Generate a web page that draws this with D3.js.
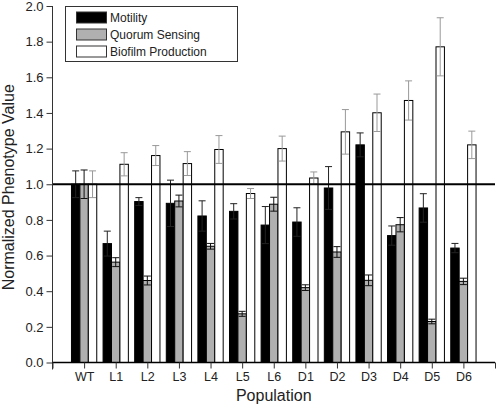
<!DOCTYPE html>
<html><head><meta charset="utf-8">
<script src="https://cdn.jsdelivr.net/npm/d3@7/dist/d3.min.js"></script>
<style>body{margin:0;background:#fff}svg{display:block;font-family:Arial,"Liberation Sans",sans-serif}</style>
</head><body><svg id="c" width="500" height="411"></svg>
<script>
const categories = ["WT","L1","L2","L3","L4","L5","L6","D1","D2","D3","D4","D5","D6"];
const seriesNames = ["Motility","Quorum Sensing","Biofilm Production"];
const motility    = [1.00,0.667,0.903,0.893,0.822,0.848,0.771,0.788,0.979,1.221,0.712,0.867,0.642];
const motilityErr = [0.075,0.07,0.022,0.13,0.085,0.043,0.104,0.08,0.12,0.067,0.054,0.08,0.026];
const quorum      = [1.00,0.563,0.46,0.906,0.652,0.273,0.888,0.42,0.62,0.461,0.773,0.23,0.455];
const quorumErr   = [0.08,0.025,0.025,0.033,0.016,0.014,0.039,0.016,0.03,0.03,0.04,0.013,0.018];
const biofilm     = [1.00,1.112,1.161,1.116,1.195,0.948,1.20,1.035,1.294,1.401,1.47,1.771,1.221];
const biofilmErr  = [0.075,0.065,0.056,0.067,0.078,0.028,0.07,0.034,0.125,0.105,0.11,0.163,0.077];
const yTicks = [0,0.2,0.4,0.6,0.8,1.0,1.2,1.4,1.6,1.8,2.0];
const refLine = 1.0;

const fills = ["#000000","#b0b0b0","#ffffff"];
const errColors = ["#222","#111","#999"];
const values = [motility, quorum, biofilm];
const errs = [motilityErr, quorumErr, biofilmErr];

const svg = d3.select("#c");
const x = d3.scaleLinear().domain([0, categories.length + 1]).range([52.5, 495]);
const y = d3.scaleLinear().domain([0, 2]).range([362.5, 6]);
const step = x(1) - x(0);
const bw = step * 0.8 / 3;

// bars
const g = svg.append("g");
values.forEach((vals, s) => {
  vals.forEach((v, i) => {
    const x0 = x(i + 1) - 1.5 * bw + s * bw;
    g.append("rect").attr("x", x0).attr("y", y(v)).attr("width", bw).attr("height", y(0) - y(v))
      .attr("fill", fills[s]).attr("stroke", "#000").attr("stroke-width", 1);
  });
});
// error bars
values.forEach((vals, s) => {
  vals.forEach((v, i) => {
    const cx = x(i + 1) - bw + s * bw;
    const e = errs[s][i];
    const col = errColors[s];
    const eg = g.append("g").attr("stroke", col).attr("stroke-width", 1);
    eg.append("line").attr("x1", cx).attr("x2", cx).attr("y1", y(v + e)).attr("y2", y(v - e));
    [v + e, v - e].forEach(t => eg.append("line").attr("x1", cx - 3.5).attr("x2", cx + 3.5).attr("y1", y(t)).attr("y2", y(t)));
  });
});

// reference line
svg.append("line").attr("x1", x(0)).attr("x2", x(categories.length + 1))
  .attr("y1", y(refLine)).attr("y2", y(refLine)).attr("stroke", "#000").attr("stroke-width", 2);

// axes
const yAxis = d3.axisLeft(y).tickValues(yTicks).tickFormat(d3.format(".1f")).tickSize(6).tickPadding(3);
const ya = svg.append("g").attr("transform", `translate(${x(0)},0)`).call(yAxis);
ya.select(".domain").attr("d", `M0,${y(2)}V${y(0)+7}`);
ya.selectAll("text").attr("font-size", 13).attr("fill", "#222").attr("font-family", "Arial,'Liberation Sans',sans-serif");
ya.selectAll("line,path").attr("stroke", "#333");

const xTickVals = d3.range(0, categories.length + 2);
const xAxis = d3.axisBottom(x).tickValues(xTickVals)
  .tickFormat(d => (d >= 1 && d <= categories.length) ? categories[d - 1] : "").tickSize(6).tickPadding(4);
const xa = svg.append("g").attr("transform", `translate(0,${y(0)})`).call(xAxis);
xa.select(".domain").attr("d", `M${x(0)},0H${x(categories.length + 1)}`);
xa.selectAll("text").attr("font-size", 12.5).attr("fill", "#222").attr("font-family", "Arial,'Liberation Sans',sans-serif");
xa.selectAll("line,path").attr("stroke", "#333");
xa.select(".domain").attr("stroke", "#000").attr("stroke-width", 1.5);

// axis titles
svg.append("text").attr("x", x((categories.length + 1) / 2)).attr("y", 401).attr("text-anchor", "middle")
  .attr("font-size", 16).attr("fill", "#222").text("Population");
svg.append("text").attr("transform", `translate(14,${y(1) + 3}) rotate(-90)`).attr("text-anchor", "middle")
  .attr("font-size", 16).attr("fill", "#222").text("Normalized Phenotype Value");

// legend
const lg = svg.append("g");
lg.append("rect").attr("x", 65.5).attr("y", 6.5).attr("width", 172).attr("height", 55)
  .attr("fill", "#fff").attr("stroke", "#333");
seriesNames.forEach((n, i) => {
  const yy = 12 + i * 17;
  lg.append("rect").attr("x", 76.5).attr("y", yy).attr("width", 30).attr("height", 11)
    .attr("fill", fills[i]).attr("stroke", "#333");
  lg.append("text").attr("x", 110).attr("y", yy + 10).attr("font-size", 12).attr("fill", "#222").text(n);
});
</script></body></html>
